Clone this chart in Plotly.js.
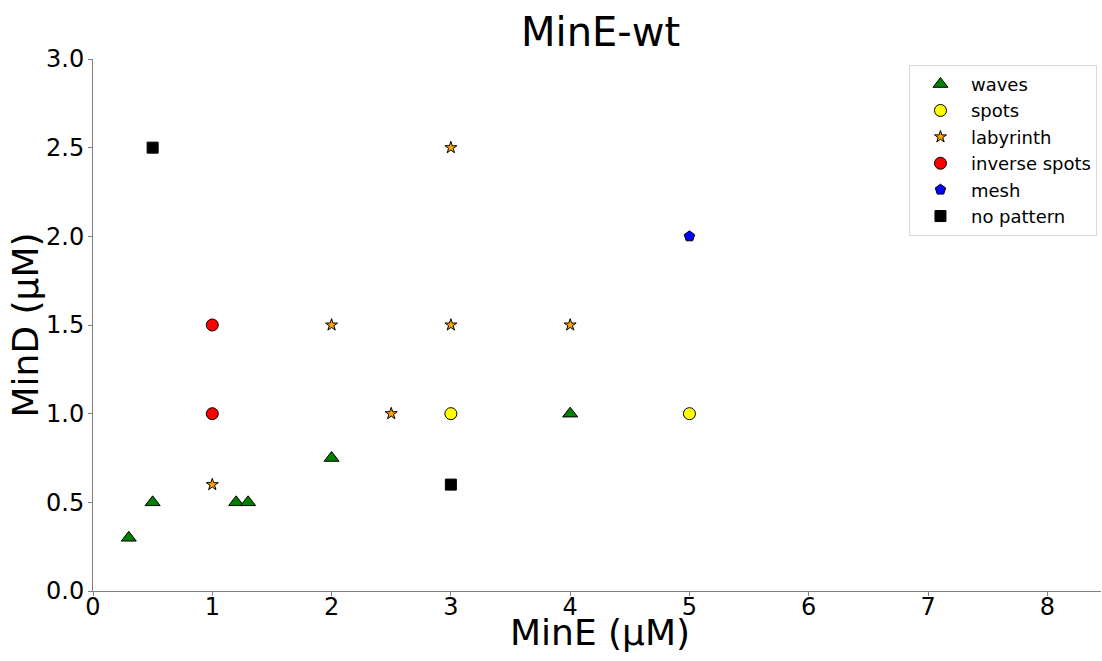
<!DOCTYPE html>
<html>
<head>
<meta charset="utf-8">
<script src="https://cdn.plot.ly/plotly-3.0.1.min.js"></script>
<style>html,body{margin:0;padding:0;background:#fff;}#chart{width:1102px;height:661px;}</style>
</head>
<body>
<div id="chart"></div>
<script>
const wavesE = [0.3, 0.5, 1.2, 1.3, 2, 4];
const wavesD = [0.3, 0.5, 0.5, 0.5, 0.75, 1.0];
const spotsE = [3, 5];
const spotsD = [1.0, 1.0];
const labyrinthE = [1, 2, 2.5, 3, 3, 4];
const labyrinthD = [0.6, 1.5, 1.0, 1.5, 2.5, 1.5];
const inverseE = [1, 1];
const inverseD = [1.0, 1.5];
const meshE = [5];
const meshD = [2.0];
const noPatternE = [0.5, 3];
const noPatternD = [2.5, 0.6];
const xTicks = [0, 1, 2, 3, 4, 5, 6, 7, 8];
const yTicks = [0, 0.5, 1, 1.5, 2, 2.5, 3];
const yTickText = ["0.0", "0.5", "1.0", "1.5", "2.0", "2.5", "3.0"];

function tr(name, x, y, symbol, color, size) {
  return {type: 'scatter', mode: 'markers', name: name, x: x, y: y,
    marker: {symbol: symbol, color: color, size: size, line: {color: '#000', width: 1}}};
}
const data = [
  tr('waves', wavesE, wavesD, 'triangle-up', 'green', 13),
  tr('spots', spotsE, spotsD, 'circle', 'yellow', 12),
  tr('labyrinth', labyrinthE, labyrinthD, 'star', 'orange', 9),
  tr('inverse spots', inverseE, inverseD, 'circle', 'red', 12),
  tr('mesh', meshE, meshD, 'pentagon', 'blue', 11),
  tr('no pattern', noPatternE, noPatternD, 'square', 'black', 11)
];
const font = 'DejaVu Sans, sans-serif';
const layout = {
  width: 1102, height: 661,
  margin: {l: 93, r: 1, t: 59, b: 70},
  paper_bgcolor: '#fff', plot_bgcolor: '#fff',
  font: {family: font, color: '#000'},
  title: {text: 'MinE-wt', font: {family: font, size: 40, color: '#000'}, x: 0.545, xanchor: 'center', y: 1 - 32/661, yanchor: 'middle', yref: 'container'},
  xaxis: {range: [0, 8.45], autorange: false, tickvals: xTicks, ticktext: xTicks.map(String),
    showgrid: false, zeroline: false, showline: true, linecolor: '#808080', linewidth: 1,
    ticks: 'outside', ticklen: 4, tickcolor: '#808080', ticklabelstandoff: -10,
    tickfont: {size: 24, family: font, color: '#000'}},
  yaxis: {range: [0, 3], autorange: false, tickvals: yTicks, ticktext: yTickText,
    showgrid: false, zeroline: false, showline: true, linecolor: '#808080', linewidth: 1,
    ticks: 'outside', ticklen: 4, tickcolor: '#808080', ticklabelstandoff: -1,
    tickfont: {size: 24, family: font, color: '#000'}},
  annotations: [
    {text: 'MinE (µM)', xref: 'paper', yref: 'paper', x: 0.5025, y: -0.0789, xanchor: 'center', yanchor: 'middle',
     showarrow: false, font: {size: 36, family: font, color: '#000'}},
    {text: 'MinD (µM)', xref: 'paper', yref: 'paper', x: -0.067, y: 0.5, xanchor: 'center', yanchor: 'middle',
     textangle: -90, showarrow: false, font: {size: 36, family: font, color: '#000'}}
  ],
  legend: {x: 0.996, xanchor: 'right', y: 0.989, yanchor: 'top', bgcolor: '#fff',
    bordercolor: '#d9d9d9', borderwidth: 1, font: {size: 18, family: font, color: '#000'},
    tracegroupgap: 0, itemwidth: 51},
  showlegend: true
};
Plotly.newPlot('chart', data, layout, {displayModeBar: false, staticPlot: true});
</script>
</body>
</html>
